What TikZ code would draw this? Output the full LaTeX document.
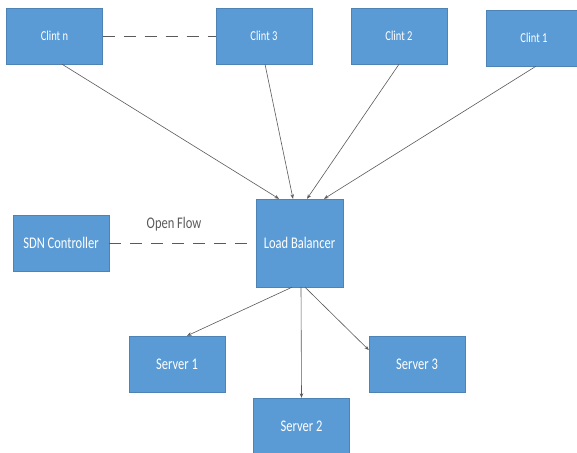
\documentclass[tikz,border=0pt]{standalone}
\usepackage{fontspec}
\setmainfont{Carlito}
\usetikzlibrary{arrows.meta}
\definecolor{boxblue}{HTML}{5B9BD5}
\definecolor{linegray}{HTML}{5A5A5A}
\newcommand\tall[1]{\scalebox{1}[1.3]{#1}}
\tikzset{
  box/.style={fill=boxblue, draw=boxblue!85!black, line width=0.4pt,
    minimum width=96pt, minimum height=56pt, inner sep=0pt,
    text=white, font=\fontsize{12.5}{14}\selectfont},
  clientbox/.style={box, font=\fontsize{10.5}{12}\selectfont},
  link/.style={draw=linegray, line width=0.6pt,
    -{Stealth[length=4.5pt,width=3.5pt]}},
  dashlink/.style={draw=linegray, line width=0.8pt, dash pattern=on 12pt off 9pt}
}
\begin{document}
\begin{tikzpicture}[x=1pt, y=-1pt]
\useasboundingbox (0,0) rectangle (577,452);
\fill[white] (0,0) rectangle (577,452);

% clients
\node[clientbox] (cn) at (54.5,36)  {\tall{Clint n}};
\node[clientbox] (c3) at (264,36)   {\tall{Clint 3}};
\node[clientbox] (c2) at (399,36)   {\tall{Clint 2}};
\node[clientbox] (c1) at (534,38)   {\tall{Clint 1}};

% controller, balancer and servers
\node[box] (sdn) at (61,243) {\tall{SDN Controller}};
\node[box, minimum width=87pt, minimum height=88pt] (lb) at (299.5,243) {\tall{Load Balancer}};
\node[box] (s1) at (177,364) {\tall{Server 1}};
\node[box] (s2) at (301.5,426) {\tall{Server 2}};
\node[box] (s3) at (417,364) {\tall{Server 3}};

\node[text=linegray, font=\fontsize{12.5}{14}\selectfont] (of) at (174,224) {\tall{Open Flow}};

% dashed associations
\draw[dashlink] (cn.east) -- (c3.west);
\draw[dashlink] (sdn.east) -- (lb.west);

% client requests into the balancer
\draw[link] (cn.south) ++(7.5,0) coordinate (cnb) -- ([xshift=-20.5pt]lb.north);
\draw[link] ([xshift=1pt]c3.south) -- ([xshift=-6.5pt]lb.north);
\draw[link] (c2.south) -- ([xshift=7.5pt]lb.north);
\draw[link] ([xshift=2pt]c1.south) -- ([xshift=24.5pt]lb.north);

% balancer to servers
\draw[link] ([xshift=-7.5pt]lb.south) -- ([xshift=10pt]s1.north);
\draw[link] ([xshift=1.5pt]lb.south) -- (s2.north);
\draw[link] ([xshift=5.5pt]lb.south) -- ([yshift=14pt]s3.west);
\end{tikzpicture}
\end{document}
